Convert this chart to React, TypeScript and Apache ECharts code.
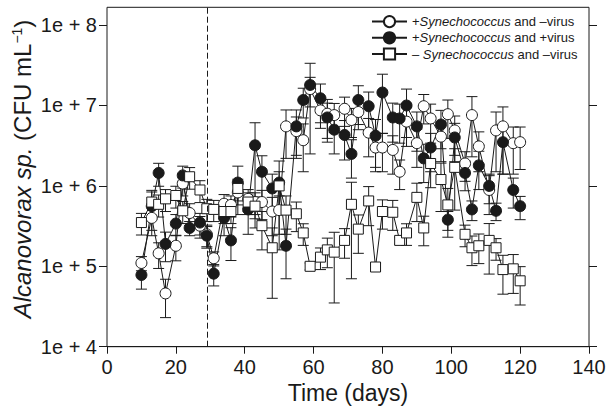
import React, { useEffect, useRef } from "react";
import * as echarts from "echarts";

// Sampling days (x)
const days = [10, 13, 15, 17, 20, 22, 24, 27, 29, 31, 34, 36, 38, 41, 43, 45, 48, 50, 52, 55, 57, 59, 62, 64, 66, 69, 71, 73, 76, 78, 80, 83, 85, 87, 90, 92, 94, 97, 99, 101, 104, 106, 108, 111, 113, 115, 118, 120];

// +Synechococcus and -virus (open circles), CFU/mL
const plusSynMinusVirus = [1.1e5, 4.0e5, 1.45e5, 4.6e4, 1.8e5, 1.07e6, 4.6e5, 3.2e5, 2.5e5, 1.26e5, 6.0e5, 5.8e5, 8.3e5, 6.9e5, 6.3e5, 6.3e5, 4.8e5, 5.0e5, 5.5e6, 4.8e6, 3.7e6, 1.6e7, 8.7e6, 7.9e6, 7.6e6, 9.1e6, 6.6e6, 8.3e6, 4.6e6, 3.0e6, 3.0e6, 2.8e6, 1.5e6, 6.3e6, 3.4e6, 9.8e6, 6.9e6, 4.1e6, 7.8e6, 4.9e6, 1.9e6, 7.6e6, 3.1e6, 8.9e5, 4.9e6, 5.5e6, 3.4e6, 3.5e6];
const plusSynMinusVirusSd = [2.2e4, 1.6e5, 5.1e4, 2.3e4, 6.3e4, 3.2e5, 1.4e5, 9.6e4, 7.5e4, 2.5e4, 1.8e5, 1.7e5, 2.5e5, 2.1e5, 1.9e5, 2.5e5, 2.4e5, 2.5e5, 3.3e6, 2.4e6, 2.2e6, 6.4e6, 3.5e6, 4.0e6, 3.0e6, 3.6e6, 2.6e6, 3.3e6, 2.3e6, 1.5e6, 1.5e6, 1.4e6, 6.0e5, 3.2e6, 1.7e6, 3.9e6, 3.5e6, 2.1e6, 3.9e6, 2.5e6, 7.6e5, 5.3e6, 1.6e6, 4.5e5, 3.4e6, 4.1e6, 2.0e6, 1.9e6];

// +Synechococcus and +virus (filled circles)
const plusSynPlusVirus = [7.8e4, 5.6e5, 1.45e6, 1.9e5, 3.4e5, 1.35e6, 3.0e5, 3.5e5, 2.4e5, 8.1e4, 4.0e5, 2.1e5, 1.1e6, 5.1e5, 3.2e6, 1.5e6, 9.3e5, 1.1e6, 1.8e5, 5.5e6, 1.17e7, 1.8e7, 1.23e7, 7.1e6, 5.0e6, 4.3e6, 2.5e6, 1.17e7, 9.8e6, 4.2e6, 1.45e7, 7.1e6, 6.9e6, 1.0e7, 5.5e6, 2.2e6, 3.0e6, 5.8e6, 3.8e5, 4.0e6, 1.45e6, 5.1e5, 1.8e6, 1.0e6, 4.9e5, 3.5e6, 8.9e5, 5.6e5];
const plusSynPlusVirusSd = [2.6e4, 2.8e5, 4.6e5, 7.6e4, 1.0e5, 4.1e5, 6.0e4, 1.05e5, 7.2e4, 2.4e4, 1.6e5, 9.2e4, 6.6e5, 2.6e5, 2.9e6, 8.7e5, 4.7e5, 9.4e5, 1.1e5, 3.3e6, 4.7e6, 1.55e7, 6.2e6, 3.6e6, 2.5e6, 2.2e6, 1.25e6, 5.9e6, 4.9e6, 2.5e6, 1.0e7, 3.6e6, 3.5e6, 6.0e6, 2.8e6, 1.1e6, 1.5e6, 2.9e6, 1.0e5, 2.0e6, 5.8e5, 1.4e5, 9.0e5, 4.0e5, 1.2e5, 2.1e6, 3.6e5, 1.8e5];

// -Synechococcus and -virus (open squares)
const minusSynMinusVirus = [3.5e5, 6.3e5, 5.9e5, 6.9e5, 7.6e5, 4.9e5, 1.3e6, 8.9e5, 5.2e5, 5.1e5, 4.8e5, 4.8e5, 9.3e5, 6.3e5, 5.6e5, 3.2e5, 1.7e5, 1.0e6, 5.0e5, 4.5e5, 2.6e5, 1.0e5, 1.3e5, 1.6e5, 1.5e5, 2.1e5, 5.9e5, 2.9e5, 6.5e5, 9.8e4, 4.8e5, 4.7e5, 2.1e5, 2.6e5, 7.2e5, 3.0e5, 1.9e6, 1.2e6, 5.8e5, 1.7e6, 2.5e5, 1.7e5, 1.8e5, 2.1e5, 1.7e5, 9.1e4, 9.3e4, 6.6e4];
const minusSynMinusVirusSd = [1.05e5, 2.5e5, 1.8e5, 2.1e5, 2.3e5, 1.5e5, 3.9e5, 2.7e5, 1.6e5, 1.5e5, 1.4e5, 1.4e5, 2.8e5, 1.9e5, 1.7e5, 1.6e5, 1.3e5, 5.0e5, 2.5e5, 1.8e5, 7.8e4, 1.0e4, 3.9e4, 6.4e4, 1.15e5, 8.4e4, 5.2e5, 1.45e5, 3.3e5, 9.8e3, 1.9e5, 1.9e5, 2.1e4, 7.8e4, 3.6e5, 1.2e5, 9.5e5, 7.2e5, 3.5e5, 1.2e6, 7.5e4, 6.8e4, 7.2e4, 1.3e5, 5.1e4, 4.6e4, 4.7e4, 3.3e4];

const seriesNames = ["+Synechococcus and –virus", "+Synechococcus and +virus", "– Synechococcus and –virus"];
const legendLabels = ["+{i|Synechococcus} and –virus", "+{i|Synechococcus} and +virus", "– {i|Synechococcus} and –virus"];
const xTicks = { min: 0, max: 140, interval: 20 };
const yTickMin = 1e4;
const yTickMax = 1e8;
const yFrameMax = 1.665e8;
const inoculationDay = 29;

const FONT = "'Liberation Sans', Arial, Helvetica, sans-serif";
const INK = "#1a1a1a";

function errorData(values: number[], sds: number[]) {
  return days.map((d, i) => [d, values[i] - sds[i], values[i] + sds[i]]);
}

function renderErrorBar(params: any, api: any) {
  const x = api.value(0);
  const top = api.coord([x, api.value(2)]);
  const bot = api.coord([x, api.value(1)]);
  const half = 5.5;
  const style = { stroke: INK, lineWidth: 1, fill: "none" };
  return {
    type: "group",
    children: [
      { type: "line", shape: { x1: top[0], y1: top[1], x2: bot[0], y2: bot[1] }, style },
      { type: "line", shape: { x1: top[0] - half, y1: top[1], x2: top[0] + half, y2: top[1] }, style },
      { type: "line", shape: { x1: bot[0] - half, y1: bot[1], x2: bot[0] + half, y2: bot[1] }, style },
    ],
  };
}

export default function App() {
  const ref = useRef<HTMLDivElement>(null);
  useEffect(() => {
    if (!ref.current) return;
    const chart = echarts.init(ref.current, null, { renderer: "svg" });
    const lineSeries = (name: string, values: number[], symbol: string, size: number, fill: string, extra: any = {}) => ({
      type: "line",
      name,
      xAxisIndex: 0,
      yAxisIndex: 0,
      data: days.map((d, i) => [d, values[i]]),
      symbol,
      symbolSize: size,
      showAllSymbol: true,
      itemStyle: { color: fill, borderColor: INK, borderWidth: 1 },
      lineStyle: { color: INK, width: 1 },
      z: 3,
      ...extra,
    });
    const errSeries = (values: number[], sds: number[]) => ({
      type: "custom",
      xAxisIndex: 0,
      yAxisIndex: 0,
      renderItem: renderErrorBar,
      data: errorData(values, sds),
      encode: { x: 0, y: [1, 2] },
      silent: true,
      z: 2,
    });
    const option: any = {
      animation: false,
      textStyle: { fontFamily: FONT, color: INK },
      grid: [
        { left: 107, right: 18, top: 7.3, bottom: 62.3, show: true, borderColor: INK, borderWidth: 1, backgroundColor: "transparent", outerBoundsMode: "none" },
        { left: 107, right: 18, top: 25, bottom: 62.3, outerBoundsMode: "none" },
      ],
      legend: {
        data: seriesNames,
        orient: "vertical",
        left: 371,
        top: 15,
        padding: 0,
        itemWidth: 35,
        itemHeight: 14,
        itemGap: 3,
        textStyle: {
          fontSize: 13,
          fontFamily: FONT,
          color: INK,
          rich: { i: { fontStyle: "italic", fontSize: 13, fontFamily: FONT, color: INK } },
        },
        formatter: (name: string) => legendLabels[seriesNames.indexOf(name)],
      },
      xAxis: [
        {
          gridIndex: 0,
          type: "value",
          min: xTicks.min,
          max: xTicks.max,
          interval: xTicks.interval,
          axisLine: { show: true, lineStyle: { color: INK, width: 1 } },
          axisTick: { show: true, inside: false, length: 7, lineStyle: { color: INK, width: 1 } },
          axisLabel: { fontSize: 20, color: INK, fontFamily: FONT, margin: 10 },
          splitLine: { show: false },
          name: "Time (days)",
          nameLocation: "middle",
          nameGap: 34,
          nameTextStyle: { fontSize: 23, color: INK, fontFamily: FONT },
        },
        { gridIndex: 1, type: "value", min: xTicks.min, max: xTicks.max, show: false },
      ],
      yAxis: [
        {
          gridIndex: 0,
          type: "log",
          logBase: 10,
          min: yTickMin,
          max: yFrameMax,
          axisLine: { show: false },
          axisTick: { show: false },
          axisLabel: { show: false },
          splitLine: { show: false },
        },
        {
          gridIndex: 1,
          type: "log",
          logBase: 10,
          min: yTickMin,
          max: yTickMax,
          position: "left",
          axisLine: { show: false },
          axisTick: { show: true, inside: false, length: 8, lineStyle: { color: INK, width: 1 } },
          axisLabel: {
            fontSize: 20,
            color: INK,
            fontFamily: FONT,
            margin: 10,
            formatter: (v: number) => "1e + " + Math.round(Math.log10(v)),
          },
          splitLine: { show: false },
        },
        {
          gridIndex: 1,
          type: "log",
          logBase: 10,
          min: yTickMin,
          max: yTickMax,
          position: "right",
          axisLine: { show: false },
          axisTick: { show: true, inside: false, length: 8, lineStyle: { color: INK, width: 1 } },
          axisLabel: { show: false },
          splitLine: { show: false },
        },
      ],
      graphic: [
        {
          type: "text",
          x: 22,
          y: 169,
          rotation: Math.PI / 2,
          style: {
            text: "{i|Alcanovorax sp.} (CFU mL{sup|−1})",
            fontSize: 24,
            fontFamily: FONT,
            fill: INK,
            align: "center",
            verticalAlign: "middle",
            rich: {
              i: { fontStyle: "italic", fontSize: 24, fontFamily: FONT, fill: INK },
              sup: { fontSize: 14, fontFamily: FONT, fill: INK, padding: [0, 0, 11, 0] },
            },
          },
        },
      ],
      series: [
        errSeries(plusSynMinusVirus, plusSynMinusVirusSd),
        errSeries(plusSynPlusVirus, plusSynPlusVirusSd),
        errSeries(minusSynMinusVirus, minusSynMinusVirusSd),
        lineSeries(seriesNames[0], plusSynMinusVirus, "circle", 11, "#ffffff", {
          markLine: {
            silent: true,
            symbol: "none",
            label: { show: false },
            lineStyle: { type: [6, 3], color: INK, width: 1 },
            data: [{ xAxis: inoculationDay }],
          },
        }),
        lineSeries(seriesNames[1], plusSynPlusVirus, "circle", 11, INK),
        lineSeries(seriesNames[2], minusSynMinusVirus, "rect", 10, "#ffffff"),
      ],
    };
    chart.setOption(option);
    return () => chart.dispose();
  }, []);
  return <div ref={ref} style={{ position: "absolute", left: 0, top: 0, width: 607, height: 409, background: "#fff" }} />;
}
